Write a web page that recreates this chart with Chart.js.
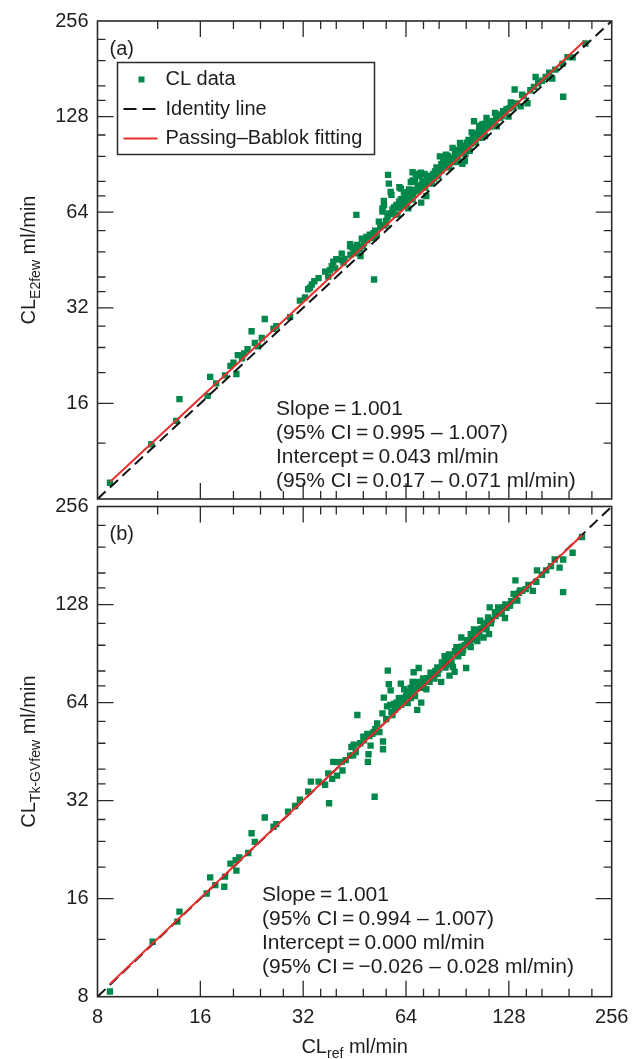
<!DOCTYPE html>
<html>
<head>
<meta charset="utf-8">
<script src="https://cdn.jsdelivr.net/npm/chart.js@4.4.1/dist/chart.umd.min.js"></script>
<style>
  html, body { margin: 0; padding: 0; background: #fff; }
  #wrap { position: relative; width: 640px; height: 1059px; }
  .box { position: absolute; left: 0; width: 640px; }
</style>
</head>
<body>
<div id="wrap">
  <div class="box" style="top:0;height:520px"><canvas id="chartA"></canvas></div>
  <div class="box" style="top:480px;height:579px"><canvas id="chartB"></canvas></div>
</div>
<script>
// Datos (ml/min)

// Panel (a): CL_ref vs CL_E2few
const topX = [
  8.7, 11.5, 13.6, 13.9, 16.8, 17.1, 17.8, 18.9, 19.6, 20.0,
  20.4, 20.6, 21.2, 21.5, 22.0, 22.6, 23.1, 23.6, 24.2, 24.7,
  26.2, 26.7, 29.3, 31.3, 32.4, 33.1, 33.5, 33.9, 34.5, 35.5,
  37.1, 37.9, 38.3, 38.8, 39.2, 39.7, 40.0, 41.5, 41.5, 42.0,
  42.3, 43.9, 43.9, 44.6, 45.0, 45.8, 45.8, 46.8, 47.1, 47.5,
  48.2, 48.6, 49.3, 50.1, 50.6, 51.4, 51.5, 51.6, 53.3, 54.6,
  54.6, 55.1, 55.2, 55.3, 55.9, 56.5, 56.7, 57.0, 57.0, 57.7,
  58.0, 58.4, 59.0, 59.7, 60.4, 61.1, 61.2, 61.8, 61.8, 62.5,
  62.5, 63.1, 63.9, 64.7, 65.0, 65.6, 66.1, 66.9, 66.9, 66.9,
  67.6, 68.3, 68.9, 69.2, 70.0, 70.2, 70.7, 70.9, 72.0, 72.5,
  73.1, 73.4, 73.8, 75.0, 75.8, 76.9, 77.3, 78.0, 78.6, 79.5,
  80.0, 80.4, 81.2, 81.2, 82.1, 83.4, 83.8, 84.0, 84.8, 85.6,
  85.6, 86.4, 87.6, 88.0, 89.9, 90.8, 91.0, 92.1, 93.0, 93.6,
  94.2, 94.5, 95.1, 95.5, 96.4, 97.0, 97.5, 98.3, 99.6, 100.0,
  100.7, 101.2, 102.3, 103.0, 104.6, 104.8, 105.5, 106.0, 106.7, 107.9,
  108.0, 109.0, 110.1, 111.0, 112.4, 113.0, 115.0, 116.6, 117.5, 118.0,
  119.2, 120.6, 121.0, 123.2, 124.9, 126.0, 127.7, 129.7, 130.7, 133.1,
  135.2, 138.6, 140.0, 141.6, 145.1, 148.0, 151.5, 153.3, 156.0, 160.0,
  164.1, 168.0, 171.6, 175.0, 183.7, 184.6, 190.0, 196.7, 214.4,
  44.0, 46.0, 47.8, 49.0, 52.0, 52.5, 53.8, 56.0, 58.8, 60.0,
  61.5, 63.5, 64.3, 65.3, 67.2, 68.0, 69.5, 71.5, 72.8, 74.5,
  76.2, 77.8, 79.0, 82.5, 84.5, 86.8, 89.0, 90.0, 92.5, 96.0,
  99.0, 101.5, 103.8, 107.0, 109.5, 114.0, 116.0, 122.0, 128.5, 132.0
];
const topY = [
  9.0, 11.9, 14.1, 16.5, 16.9, 19.4, 18.5, 19.6, 21.0, 21.5,
  19.8, 22.7, 22.2, 23.0, 23.7, 27.0, 24.8, 24.2, 25.7, 29.5,
  27.5, 28.0, 29.9, 33.7, 34.5, 36.6, 37.0, 37.9, 38.8, 39.7,
  41.6, 40.1, 42.0, 43.3, 44.7, 42.6, 45.5, 47.4, 45.2, 44.4,
  45.6, 50.8, 50.0, 49.6, 48.4, 62.8, 47.5, 49.0, 46.6, 52.8,
  51.2, 52.7, 52.3, 54.4, 53.5, 55.0, 53.1, 39.3, 59.8, 64.3,
  65.8, 69.4, 67.3, 58.1, 60.1, 61.9, 83.9, 78.7, 63.4, 74.1,
  72.6, 65.3, 66.2, 66.5, 62.9, 69.1, 76.7, 75.9, 70.2, 70.5,
  67.3, 74.0, 68.6, 73.2, 65.8, 72.6, 79.6, 85.5, 80.6, 70.2,
  75.2, 84.4, 83.3, 77.7, 76.7, 83.9, 85.3, 68.6, 78.0, 84.5,
  78.7, 72.0, 83.4, 81.0, 78.7, 84.4, 81.6, 83.0, 88.5, 83.3,
  86.0, 95.9, 86.6, 90.6, 93.9, 95.2, 97.1, 89.0, 96.3, 88.6,
  91.7, 91.9, 102.0, 95.0, 100.6, 94.2, 98.0, 105.7, 99.0, 90.9,
  103.3, 103.5, 92.8, 97.4, 106.0, 104.0, 108.1, 99.9, 114.2, 108.0,
  113.0, 123.8, 106.0, 111.0, 115.2, 119.6, 109.8, 115.4, 120.8, 121.4,
  117.0, 111.1, 126.7, 118.5, 122.3, 119.0, 124.0, 131.5, 127.0, 119.3,
  128.8, 126.7, 130.0, 133.2, 132.9, 135.0, 128.0, 141.9, 141.0, 155.8,
  140.9, 137.8, 150.0, 148.5, 141.0, 155.0, 158.8, 170.6, 163.0, 166.0,
  170.6, 176.0, 168.6, 180.0, 187.7, 147.8, 197.0, 196.7, 217.5,
  47.0, 50.5, 50.0, 53.5, 56.0, 54.5, 57.5, 59.0, 63.0, 67.5,
  66.0, 71.5, 70.0, 75.5, 72.5, 80.0, 74.5, 80.5, 76.5, 82.0,
  80.5, 86.0, 85.0, 88.5, 92.5, 93.5, 97.5, 92.0, 101.0, 100.5,
  105.0, 109.5, 113.0, 112.5, 118.0, 123.0, 121.5, 128.5, 136.0, 137.5
];

// Panel (b): CL_ref vs CL_Tk-GVfew
const botX = [
  8.7, 11.6, 13.7, 13.9, 16.7, 17.1, 17.7, 18.8, 18.9, 19.6,
  20.3, 20.4, 20.8, 22.1, 22.6, 23.1, 24.7, 26.2, 26.7, 28.9,
  30.3, 31.3, 33.1, 33.7, 35.5, 37.1, 37.9, 38.1, 38.9, 39.2,
  40.2, 40.2, 41.5, 41.7, 42.6, 43.9, 44.3, 44.6, 44.8, 45.6,
  46.1, 48.0, 48.2, 49.3, 49.5, 49.7, 50.4, 51.0, 51.4, 51.8,
  52.7, 54.6, 54.8, 54.8, 55.1, 56.3, 56.6, 57.0, 57.7, 58.0,
  58.4, 59.0, 60.0, 60.4, 61.8, 62.0, 62.5, 63.2, 64.0, 64.7,
  65.0, 66.1, 66.9, 67.0, 67.4, 68.6, 69.0, 69.7, 70.0, 70.9,
  71.8, 72.0, 73.4, 74.0, 75.0, 76.0, 77.5, 78.0, 79.2, 80.0,
  81.1, 82.0, 83.0, 84.0, 84.9, 85.8, 86.0, 87.8, 88.8, 89.9,
  90.0, 91.0, 92.9, 93.0, 94.0, 95.0, 96.0, 97.0, 98.0, 99.0,
  99.0, 100.0, 101.2, 102.0, 103.5, 104.0, 105.5, 106.0, 107.9, 109.0,
  110.1, 111.3, 112.0, 112.5, 114.0, 116.6, 117.0, 119.0, 121.0, 123.3,
  124.7, 126.0, 127.6, 130.0, 132.2, 133.8, 135.5, 137.0, 140.1, 143.4,
  146.0, 150.4, 154.0, 154.7, 160.0, 164.6, 170.0, 174.3, 180.2, 184.5,
  184.6, 196.7, 209.6,
  45.0, 47.0, 50.0, 52.0, 53.5, 56.0, 57.5, 59.5, 61.0, 63.0,
  64.5, 66.0, 68.0, 69.0, 71.0, 73.0, 75.5, 77.0, 79.0, 81.5,
  83.5, 85.5, 87.0, 89.0, 91.5, 93.5, 96.5, 98.5, 101.0, 103.0,
  105.0, 108.0, 111.0, 113.5, 118.0, 122.0, 125.0, 129.0, 134.0, 138.0
];
const botY = [
  8.3, 11.8, 13.6, 14.6, 16.6, 18.6, 17.6, 17.4, 18.7, 20.5,
  21.0, 19.5, 21.4, 22.1, 25.4, 23.9, 28.4, 26.6, 27.1, 29.6,
  30.8, 32.2, 34.1, 36.6, 36.6, 35.8, 38.8, 31.4, 37.3, 42.1,
  38.2, 42.0, 42.1, 39.6, 42.6, 44.0, 46.8, 46.7, 44.1, 45.1,
  58.6, 50.3, 49.0, 51.3, 42.1, 44.4, 47.2, 51.3, 51.9, 32.9,
  55.2, 59.3, 48.6, 46.0, 66.3, 62.3, 80.2, 72.9, 69.8, 60.0,
  58.6, 63.4, 64.0, 62.3, 73.2, 63.0, 66.1, 70.3, 67.0, 63.8,
  69.0, 66.1, 74.1, 68.0, 79.3, 70.7, 60.8, 81.7, 72.0, 64.0,
  75.9, 73.0, 70.3, 76.0, 74.1, 77.0, 75.9, 80.0, 78.4, 81.0,
  74.1, 83.0, 88.8, 87.0, 83.8, 77.4, 88.0, 82.4, 79.6, 94.7,
  91.0, 88.8, 101.4, 95.0, 92.6, 96.0, 81.7, 97.6, 99.0, 103.8,
  94.7, 100.0, 107.4, 104.0, 98.9, 105.0, 114.1, 108.0, 101.4, 110.0,
  107.4, 116.8, 103.8, 125.5, 115.0, 121.0, 118.0, 125.5, 122.0, 125.5,
  116.4, 125.0, 127.0, 131.0, 138.0, 151.8, 131.7, 139.0, 141.0, 142.7,
  147.0, 141.0, 150.2, 163.0, 158.0, 163.0, 168.0, 176.0, 166.2, 139.7,
  176.0, 184.6, 206.3,
  47.5, 48.0, 50.5, 53.0, 52.0, 57.0, 63.0, 61.0, 66.0, 65.0,
  69.0, 71.0, 67.0, 74.0, 71.0, 75.0, 79.0, 78.0, 82.0, 85.0,
  82.0, 90.0, 86.0, 92.0, 94.0, 91.0, 99.5, 97.0, 102.5, 107.0,
  103.0, 112.0, 113.0, 112.0, 121.0, 120.0, 128.0, 127.0, 136.0, 141.5
];

// Lineas: identidad y ajuste Passing-Bablok
const identityX = [8, 256];
const identityY = [8, 256];
const topFitX = [8.7, 213];
const topFitY = [9.05, 221.5];
const botFitX = [8.7, 210];
const botFitY = [8.75, 209.2];

// Ticks de los ejes (log2)
const majorTicks = [8, 16, 32, 64, 128, 256];
const minorTicks = [12, 20, 24, 28, 36, 40, 48, 56, 72, 80, 96, 112, 144, 160, 192, 224];
const topYLabels = [16, 32, 64, 128, 256];
const botYLabels = [8, 16, 32, 64, 128, 256];
const xLabels = [8, 16, 32, 64, 128, 256];

// Textos
const topNotes = ["Slope\u2009=\u20091.001", "(95% CI\u2009=\u20090.995 \u2013 1.007)",
  "Intercept\u2009=\u20090.043 ml/min", "(95% CI\u2009=\u20090.017 \u2013 0.071 ml/min)"];
const botNotes = ["Slope\u2009=\u20091.001", "(95% CI\u2009=\u20090.994 \u2013 1.007)",
  "Intercept\u2009=\u20090.000 ml/min", "(95% CI\u2009=\u2009\u22120.026 \u2013 0.028 ml/min)"];

const FONT = "'Liberation Sans', Arial, Helvetica, sans-serif";
const GREEN = "#00874a";
const RED = "#e8312f";
const INK = "#1e1e1e";

function zip(xs, ys) {
  return xs.map((x, i) => ({ x: x, y: ys[i] }));
}

// texto con subindice: partes [texto, esSub]
function drawParts(ctx, parts, cx, baseY, size) {
  const subSize = Math.round(size * 0.7);
  let total = 0;
  parts.forEach((p) => {
    ctx.font = (p[1] ? subSize : size) + "px " + FONT;
    total += ctx.measureText(p[0]).width;
  });
  let x = cx - total / 2;
  ctx.textAlign = "left";
  ctx.textBaseline = "alphabetic";
  parts.forEach((p) => {
    ctx.font = (p[1] ? subSize : size) + "px " + FONT;
    ctx.fillText(p[0], x, baseY + (p[1] ? size * 0.28 : 0));
    x += ctx.measureText(p[0]).width;
  });
}

const framePlugin = {
  id: "frame",
  afterDatasetsDraw(chart) {
    const { ctx, chartArea: a, scales } = chart;
    const x = scales.x, y = scales.y;
    ctx.save();
    ctx.strokeStyle = "#2a2a2a";
    ctx.lineWidth = 1.3;
    ctx.beginPath();
    const tickSets = [[majorTicks, 16], [minorTicks, 8]];
    tickSets.forEach(([vals, len]) => {
      vals.forEach((v) => {
        if (v <= 8 || v >= 256) return;
        const px = x.getPixelForValue(v);
        ctx.moveTo(px, a.top); ctx.lineTo(px, a.top + len);
        ctx.moveTo(px, a.bottom); ctx.lineTo(px, a.bottom - len);
        const py = y.getPixelForValue(v);
        ctx.moveTo(a.left, py); ctx.lineTo(a.left + len, py);
        ctx.moveTo(a.right, py); ctx.lineTo(a.right - len, py);
      });
    });
    ctx.stroke();
    ctx.lineWidth = 1.6;
    ctx.strokeRect(a.left, a.top, a.right - a.left, a.bottom - a.top);
    ctx.restore();
  },
  afterDraw(chart) {
    const { ctx, chartArea: a } = chart;
    const o = chart.options.plugins.frame;
    ctx.save();
    ctx.fillStyle = INK;

    // etiqueta del panel
    ctx.font = "20px " + FONT;
    ctx.textAlign = "left";
    ctx.textBaseline = "middle";
    ctx.fillText(o.panel, a.left + 12, a.top + 28);

    // anotaciones
    ctx.font = "21px " + FONT;
    o.notes.forEach((t, i) => {
      ctx.fillText(t, a.left + o.noteX, a.top + 388.5 + i * 24);
    });

    // titulo eje y (rotado)
    ctx.save();
    ctx.translate(a.left - 63, (a.top + a.bottom) / 2);
    ctx.rotate(-Math.PI / 2);
    drawParts(ctx, o.yTitle, 0, 0, 20);
    ctx.restore();

    // titulo eje x
    if (o.xTitle) {
      drawParts(ctx, o.xTitle, (a.left + a.right) / 2 + 0, a.bottom + 56, 20);
    }

    // leyenda
    if (o.legend) {
      const lx = a.left + 20, ly = a.top + 41.5;
      ctx.lineWidth = 1.5;
      ctx.strokeStyle = "#2a2a2a";
      ctx.strokeRect(lx, ly, 257, 92);
      const rows = [2, 1, 0];
      rows.forEach((di, i) => {
        const ds = chart.data.datasets[di];
        const cy = ly + 17 + i * 29.5;
        if (ds.showLine) {
          ctx.save();
          ctx.strokeStyle = ds.borderColor;
          ctx.lineWidth = ds.borderWidth;
          ctx.setLineDash(ds.borderDash ? [13, 6] : []);
          ctx.beginPath();
          ctx.moveTo(lx + 6, cy);
          ctx.lineTo(lx + 40, cy);
          ctx.stroke();
          ctx.restore();
        } else {
          ctx.fillStyle = ds.backgroundColor;
          ctx.fillRect(lx + 21, cy - 3, 6, 6);
        }
        ctx.fillStyle = INK;
        ctx.font = "20px " + FONT;
        ctx.textAlign = "left";
        ctx.textBaseline = "middle";
        ctx.fillText(ds.label, lx + 48, cy);
      });
    }
    ctx.restore();
  }
};

function logTicks(list) {
  return (scale) => {
    scale.ticks = list.map((v) => ({ value: v }));
  };
}

function makeChart(id, pts, fitX, fitY, cfg) {
  const datasets = [
    {
      label: "Passing\u2013Bablok fitting",
      data: zip(fitX, fitY),
      showLine: true,
      borderColor: RED,
      borderWidth: 2,
      pointRadius: 0,
      order: 0
    },
    {
      label: "Identity line",
      data: zip(identityX, identityY),
      showLine: true,
      borderColor: "#111",
      borderWidth: 2,
      borderDash: [11, 6],
      pointRadius: 0,
      order: 1
    },
    {
      label: "CL data",
      data: pts,
      pointStyle: "rect",
      pointRadius: 4.5,
      pointBorderWidth: 0,
      backgroundColor: GREEN,
      borderColor: GREEN,
      order: 2
    }
  ];
  const tickFont = { family: FONT, size: 20 };
  return new Chart(document.getElementById(id), {
    type: "scatter",
    data: { datasets: datasets },
    plugins: [framePlugin],
    options: {
      responsive: true,
      maintainAspectRatio: false,
      animation: false,
      layout: { padding: cfg.padding },
      plugins: {
        legend: { display: false },
        tooltip: { enabled: false },
        frame: cfg.frame
      },
      scales: {
        x: {
          type: "logarithmic",
          min: 8,
          max: 256,
          display: cfg.showX,
          afterBuildTicks: logTicks(xLabels),
          afterFit: (s) => { s.height = cfg.xHeight; },
          grid: { display: false, drawTicks: false },
          border: { display: false },
          ticks: {
            color: INK, font: tickFont, padding: 9, autoSkip: false, maxRotation: 0,
            callback: (v) => String(v)
          }
        },
        y: {
          type: "logarithmic",
          min: 8,
          max: 256,
          position: "left",
          afterBuildTicks: logTicks(cfg.yLabels),
          afterFit: (s) => { s.width = 97.5; },
          grid: { display: false, drawTicks: false },
          border: { display: false },
          ticks: {
            color: INK, font: tickFont, padding: 9, autoSkip: false,
            callback: (v) => String(v)
          }
        }
      }
    }
  });
}

makeChart("chartA", zip(topX, topY), topFitX, topFitY, {
  padding: { left: 0, right: 28.3, top: 16.7, bottom: 13.5 },
  showX: false,
  xHeight: 0,
  yLabels: topYLabels,
  frame: {
    panel: "(a)",
    notes: topNotes,
    noteX: 178.5,
    legend: true,
    yTitle: [["CL", false], ["E2few", true], [" ml/min", false]]
  }
});

makeChart("chartB", zip(botX, botY), botFitX, botFitY, {
  padding: { left: 0, right: 28.3, top: 26.5, bottom: 0 },
  showX: true,
  xHeight: 62.3,
  yLabels: botYLabels,
  frame: {
    panel: "(b)",
    notes: botNotes,
    noteX: 164.5,
    legend: false,
    yTitle: [["CL", false], ["Tk-GVfew", true], [" ml/min", false]],
    xTitle: [["CL", false], ["ref", true], [" ml/min", false]]
  }
});
</script>
</body>
</html>
